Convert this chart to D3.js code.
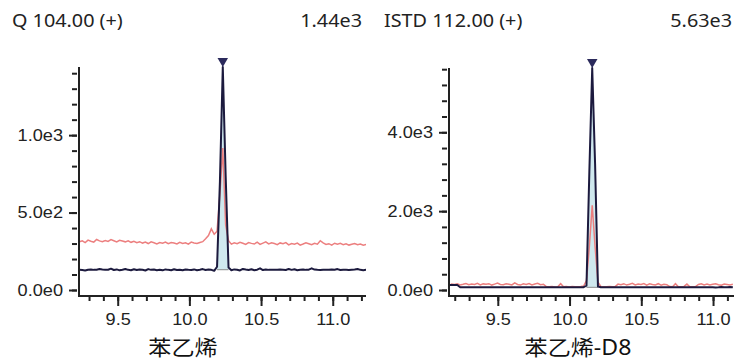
<!DOCTYPE html>
<html>
<head>
<meta charset="utf-8">
<script src="https://cdn.jsdelivr.net/npm/d3@7"></script>
<style>
  body { margin: 0; background: #fff; }
  svg { display: block; font-family: "Noto Sans", "Noto Sans CJK SC", sans-serif; }
</style>
</head>
<body>
<svg id="chart" width="734" height="363"></svg>
<script>
// sampling grid of each trace (start time, step in minutes)
const startL = 9.233, startR = 9.158, step = 0.02;

// Q 104.00 (+) - quant ion (black) and qualifier (red)
const quantL = [
  131,129,126,131,133,130,131,135,132,130,
  131,138,129,133,127,131,136,130,128,134,
  129,133,131,126,135,130,132,128,131,127,
  133,130,128,134,129,131,127,132,130,129,
  133,128,131,135,129,132,130,124,150,700,
  1440,740,145,128,133,131,126,136,132,129,
  134,128,131,140,129,133,130,131,131,130,
  132,131,129,136,130,134,128,131,133,130,
  131,140,132,130,129,131,131,130,132,131,
  135,129,131,130,129,131,133,136,130,128,131
];
const qualL = [
  312,318,306,322,315,309,326,317,312,320,
  314,325,318,310,321,316,311,318,308,315,
  306,312,303,309,300,311,305,298,307,302,
  310,299,306,303,297,308,301,305,296,309,
  304,300,307,312,331,352,395,360,380,620,
  917,420,318,296,305,299,308,302,294,306,
  301,297,309,295,303,311,298,305,300,293,
  304,299,306,291,300,296,303,290,297,305,
  299,292,301,296,318,304,294,299,290,302,
  296,301,293,298,290,295,300,292,297,289,294
];

// ISTD 112.00 (+)
const quantR = [
  126,126,126,126,70,68,69,67,68,70,
  68,67,69,68,70,68,67,69,68,68,
  69,67,68,70,68,67,69,68,70,68,
  67,69,68,68,70,67,68,69,68,67,
  69,68,70,68,67,69,68,70,110,3000,
  5630,3200,90,68,69,67,70,68,68,69,
  67,68,70,69,68,67,68,70,68,69,
  68,67,69,68,70,68,67,69,68,70,
  68,69,67,68,70,68,69,67,68,70,
  68,72,69,66,68,74,67,70,75,69
];
const qualR = [
  95,150,140,160,130,145,165,135,150,140,
  170,130,155,145,160,125,150,175,140,135,
  160,145,130,180,140,125,155,140,165,130,
  150,170,135,145,85,80,90,78,84,160,
  82,88,79,86,80,84,90,100,240,1100,
  2150,1100,200,90,84,80,88,82,86,150,
  135,160,125,145,170,130,150,140,165,125,
  155,140,130,160,120,145,135,88,82,160,
  85,80,90,150,84,82,88,140,155,130,
  150,125,145,160,135,120,150,140,130,145
];

// integration windows and baselines
const peakL = [10.193, 10.273], baseL = 131;
const peakR = [10.118, 10.198], baseR = 68;

// axes
const xTicks = [9.5, 10.0, 10.5, 11.0];
const yTicksL = [0, 500, 1000], yMinorL = 100, yMaxL = 1440;
const yTicksR = [0, 2000, 4000], yMinorR = 400, yMaxR = 5630;
const titles = ["Q 104.00 (+)", "ISTD 112.00 (+)"];
const names = ["苯乙烯", "苯乙烯-D8"];

const svg = d3.select('#chart');
const ink = '#222', navy = '#1c1a3e', salmon = '#ec7f7f', fillBlue = '#cfe8ee';

const sciFmt = v => d3.format('.1e')(v).replace('+', '');

// the text in the reference is a little wider than Noto Sans
function widen(sel, k) {
  sel.each(function() {
    const t = d3.select(this);
    const x = +t.attr('x') || 0;
    t.attr('x', x / k).attr('transform', `scale(${k},1)`);
  });
}

function drawPanel(o) {
  const g = svg.append('g');
  const x = d3.scaleLinear().domain(o.xDomain).range([o.left, o.right]);
  const y = d3.scaleLinear().domain([0, o.yMax]).range([o.zeroY, o.top]);
  const toPts = (arr) => arr.map((v, i) => ({t: o.start + i * step, v: v}));
  const quant = toPts(o.quant), qual = toPts(o.qual);

  const id = 'clip' + o.key;
  svg.append('clipPath').attr('id', id).append('rect')
    .attr('x', o.left).attr('y', 0).attr('width', o.right - o.left).attr('height', o.bottom);
  const plot = g.append('g').attr('clip-path', `url(#${id})`);

  // peak area
  const inPeak = quant.filter(d => d.t >= o.peak[0] - 1e-6 && d.t <= o.peak[1] + 1e-6);
  plot.append('path').datum(inPeak)
    .attr('d', d3.area().x(d => x(d.t)).y0(y(o.base)).y1(d => y(d.v)))
    .attr('fill', fillBlue);
  plot.append('line')
    .attr('x1', x(o.peak[0])).attr('x2', x(o.peak[1]))
    .attr('y1', y(o.base)).attr('y2', y(o.base))
    .attr('stroke', '#8a8a8a').attr('stroke-width', 1);

  const line = d3.line().x(d => x(d.t)).y(d => y(d.v));
  plot.append('path').datum(qual).attr('d', line)
    .attr('fill', 'none').attr('stroke', salmon).attr('stroke-width', 1.5);
  plot.append('path').datum(quant).attr('d', line)
    .attr('fill', 'none').attr('stroke', navy).attr('stroke-width', 2).attr('stroke-linejoin', 'round');

  // apex marker
  const apex = quant.reduce((a, b) => b.v > a.v ? b : a);
  g.append('path')
    .attr('d', d3.symbol(d3.symbolTriangle, 48)())
    .attr('transform', `translate(${x(apex.t)},${y(apex.v) - 6}) rotate(180)`)
    .attr('fill', '#2b2a5c');

  // y axis
  const yMinor = d3.range(0, o.yMax + 1, o.yMinorStep);
  g.append('g').attr('transform', `translate(${o.left - 2},0)`)
    .call(d3.axisLeft(y).tickValues(yMinor).tickSize(5).tickSizeOuter(0).tickFormat(''))
    .call(a => a.select('.domain').remove());
  g.append('g').attr('transform', `translate(${o.left - 2},0)`)
    .call(d3.axisLeft(y).tickValues(o.yTicks).tickSize(8).tickSizeOuter(0).tickPadding(6).tickFormat(sciFmt))
    .call(a => a.select('.domain').remove());

  // x axis
  const xMinor = d3.range(Math.ceil(o.xDomain[0] * 10), Math.floor(o.xDomain[1] * 10) + 1).map(d => d / 10);
  g.append('g').attr('transform', `translate(0,${o.bottom + 1})`)
    .call(d3.axisBottom(x).tickValues(xMinor).tickSize(4).tickSizeOuter(0).tickFormat(''))
    .call(a => a.select('.domain').remove());
  g.append('g').attr('transform', `translate(0,${o.bottom + 1})`)
    .call(d3.axisBottom(x).tickValues(xTicks).tickSize(9).tickSizeOuter(0).tickPadding(7).tickFormat(d3.format('.1f')))
    .call(a => a.select('.domain').remove());

  g.selectAll('.tick line').attr('stroke', ink).attr('stroke-width', 2);
  g.selectAll('.tick text').attr('fill', ink).style('font-size', '16.5px').call(widen, 1.1);

  // axis lines
  g.append('path')
    .attr('d', `M${o.left},${o.top}V${o.bottom}H${o.right}`)
    .attr('fill', 'none').attr('stroke', ink).attr('stroke-width', 2);

  // labels
  g.append('text').attr('x', o.titleX).attr('y', 27).text(o.title)
    .attr('fill', ink).style('font-size', '18px').call(widen, 1.1);
  g.append('text').attr('x', o.maxX).attr('y', 27).attr('text-anchor', 'end')
    .text(d3.format('.2e')(o.yMax).replace('+', ''))
    .attr('fill', ink).style('font-size', '18px').call(widen, 1.1);
  g.append('text').attr('x', o.nameX).attr('y', 355).attr('text-anchor', 'middle').text(o.name)
    .attr('fill', '#111').style('font-size', '21px').call(widen, 1.1);
}

drawPanel({
  key: 'L', quant: quantL, qual: qualL, start: startL, peak: peakL, base: baseL,
  xDomain: [9.23, 11.232], left: 79, right: 366, top: 67, zeroY: 290, bottom: 296,
  yMax: yMaxL, yTicks: yTicksL, yMinorStep: yMinorL,
  title: titles[0], titleX: 12, maxX: 362, name: names[0], nameX: 183
});
drawPanel({
  key: 'R', quant: quantR, qual: qualR, start: startR, peak: peakR, base: baseR,
  xDomain: [9.16, 11.146], left: 449, right: 734, top: 68, zeroY: 290, bottom: 296,
  yMax: yMaxR, yTicks: yTicksR, yMinorStep: yMinorR,
  title: titles[1], titleX: 384, maxX: 732, name: names[1], nameX: 578
});
</script>
</body>
</html>
